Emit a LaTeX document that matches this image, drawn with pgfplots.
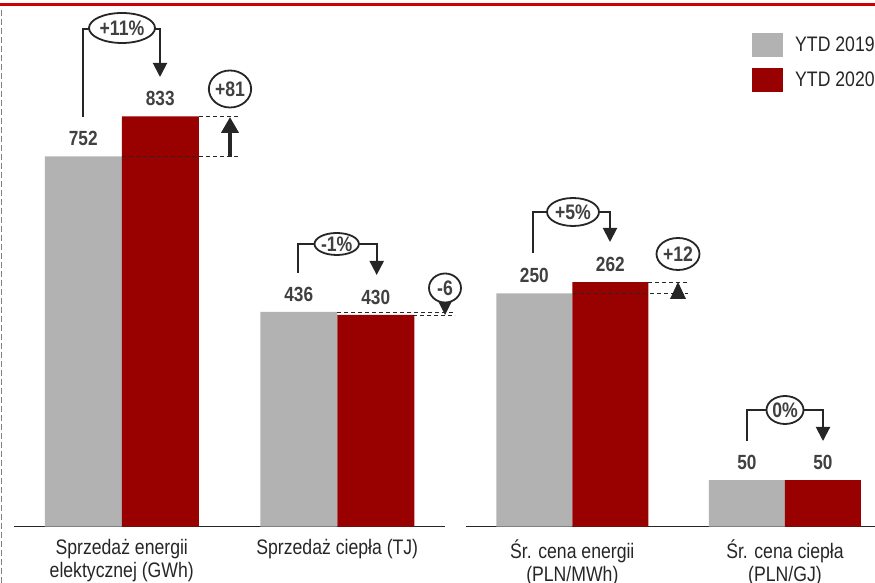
\documentclass[border=0pt]{standalone}
\usepackage{pgfplots}
\pgfplotsset{compat=1.18}
\usetikzlibrary{arrows.meta,shapes.geometric}
\usepackage{fontspec}
\setmainfont[FakeStretch=0.84]{Liberation Sans}
\definecolor{g19}{HTML}{B2B2B2}
\definecolor{r20}{HTML}{990000}
\definecolor{lbl}{HTML}{404040}
\definecolor{txt}{HTML}{262626}
\definecolor{topred}{HTML}{CC0000}
\begin{document}
\begin{tikzpicture}
\useasboundingbox (0,0) rectangle (875pt,583pt);
\pgfplotsset{
  common/.style={
    scale only axis, anchor=south west,
    ybar=0pt, ymin=0,
    axis x line*=bottom, axis y line=none,
    x axis line style={line width=1.3pt, color=txt, -},
    xtick={0,1}, major tick length=0pt,
    xticklabel style={align=center, font=\fontsize{21}{23}\selectfont, text=txt, anchor=north, yshift=-9pt},
    nodes near coords={\pgfmathprintnumber{\pgfplotspointmeta}},
    /pgf/number format/assume math mode=true,
    every node near coord/.append style={font=\bfseries\fontsize{20.5}{24}\selectfont, text=lbl, anchor=center, yshift=17.5pt},
    clip=false,
    legend image code/.code={\path[##1] (0pt,-12pt) rectangle (31pt,12pt);},
  }
}
\begin{axis}[common, at={(14pt,56.3pt)}, width=431pt, height=492.5pt,
  xmin=-0.5, xmax=1.5, ymax=1000, bar width=77pt,
  xticklabels={{Sprzedaż energii\\elektycznej (GWh)},{Sprzedaż ciepła (TJ)}}]
\addplot[fill=g19, draw=none] coordinates {(0,752) (1,436)};
\addplot[fill=r20, draw=none] coordinates {(0,833) (1,430)};
\end{axis}
\begin{axis}[common, at={(466pt,56.3pt)}, width=409pt, height=466.8pt,
  xmin=-0.5, xmax=1.4235, ymax=500, bar width=76pt,
  xticklabels={{Śr. cena energii\\(PLN/MWh)},{Śr. cena ciepła\\(PLN/GJ)}},
  legend style={at={(axis description cs:0.6993,1.0576)}, anchor=north west,
    draw=none, fill=none, inner sep=0pt, font=\fontsize{21}{23}\selectfont,
    text=txt, row sep=11pt, nodes={inner sep=0pt, anchor=west},
    /tikz/every odd column/.append style={column sep=12pt}},
  legend cell align=left]
\addplot[fill=g19, draw=none] coordinates {(0,250) (1,50)};
\addplot[fill=r20, draw=none] coordinates {(0,262) (1,50)};
\legend{YTD 2019, YTD 2020}
\end{axis}
\begin{scope}[x=1pt,y=-1pt,yshift=583pt]
\tikzset{
  conn/.style={draw=txt, line width=2pt, -{Triangle[width=14pt,length=14pt]}},
  bub/.style={ellipse, draw=txt, line width=1.8pt, fill=white, inner sep=0pt,
    font=\bfseries\fontsize{21}{22}\selectfont, text=lbl},
  dsh/.style={draw=txt, line width=1pt, dash pattern=on 4pt off 3pt}
}
\draw[topred, line width=2.5pt] (0,4.7) -- (875,4.7);
\draw[gray, line width=1.3pt, dash pattern=on 6pt off 3pt] (1.5,10) -- (1.5,583);
% group 1
\draw[conn] (83,117) -- (83,29) -- (160,29) -- (160,77);
\node[bub, minimum width=66pt, minimum height=30pt] at (122,28) {+11\%};
\draw[dsh] (199,116.8) -- (238,116.8);
\draw[dsh] (122,156.7) -- (238,156.7);
\draw[txt, line width=4.5pt, -{Triangle[width=17pt,length=16pt]}] (230,156.7) -- (230,117);
\node[bub, minimum width=42pt, minimum height=37pt] at (230,89) {+81};
% group 2
\draw[conn] (298,272.7) -- (298,244) -- (376.7,244) -- (376.7,275);
\node[bub, minimum width=44pt, minimum height=22pt] at (336.7,244) {-1\%};
\draw[dsh] (337,312.2) -- (455,312.2);
\draw[dsh] (413,315.1) -- (455,315.1);
\fill[txt] (437,299) -- (453,299) -- (445,315) -- cycle;
\node[bub, minimum width=32pt, minimum height=29pt] at (445,288) {-6};
% group 3
\draw[conn] (533,253) -- (533,212) -- (610,212) -- (610,242);
\node[bub, minimum width=52pt, minimum height=28pt] at (573,212) {+5\%};
\draw[dsh] (648,282.1) -- (688,282.1);
\draw[dsh] (573,293.3) -- (688,293.3);
\fill[txt] (670,299) -- (686,299) -- (678,282) -- cycle;
\node[bub, minimum width=43pt, minimum height=32pt] at (678,254) {+12};
% group 4
\draw[conn] (747,441) -- (747,410) -- (823,410) -- (823,441);
\node[bub, minimum width=37pt, minimum height=28pt] at (785,410) {0\%};
\end{scope}
\end{tikzpicture}
\end{document}
